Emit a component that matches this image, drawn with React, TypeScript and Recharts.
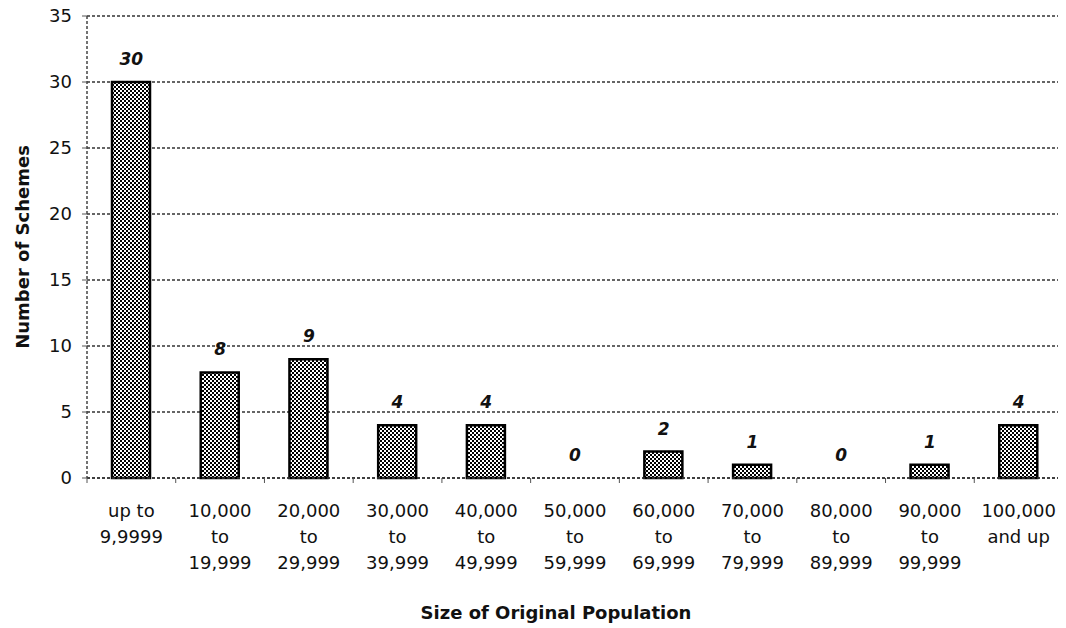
import React from "react";
import {
  ComposedChart,
  Bar,
  Line,
  XAxis,
  YAxis,
  CartesianGrid,
  LabelList,
  Label,
} from "recharts";

const categories = [
  "up to\n9,9999",
  "10,000\nto\n19,999",
  "20,000\nto\n29,999",
  "30,000\nto\n39,999",
  "40,000\nto\n49,999",
  "50,000\nto\n59,999",
  "60,000\nto\n69,999",
  "70,000\nto\n79,999",
  "80,000\nto\n89,999",
  "90,000\nto\n99,999",
  "100,000\nand up",
];
const counts = [30, 8, 9, 4, 4, 0, 2, 1, 0, 1, 4];
const yTicks = [0, 5, 10, 15, 20, 25, 30, 35];
const xTitle = "Size of Original Population";
const yTitle = "Number of Schemes";

const data = categories.map((c, i) => ({ category: c, count: counts[i] }));

const FONT = "'DejaVu Sans', Verdana, sans-serif";

const CategoryTick = (props: any) => {
  const { x, y, payload, width, visibleTicksCount, index } = props;
  const lines = String(payload.value).split("\n");
  const n = visibleTicksCount || categories.length;
  const half = width && n ? width / n / 2 : 0;
  return (
    <g>
      {half > 0 && (
        <line x1={x - half} x2={x - half} y1={y} y2={y + 5} stroke="#555" />
      )}
      {half > 0 && index === n - 1 && (
        <line x1={x + half} x2={x + half} y1={y} y2={y + 5} stroke="#555" />
      )}
      <text
        x={x}
        y={y}
        textAnchor="middle"
        fontFamily={FONT}
        fontSize={18}
        fill="#111"
      >
        {lines.map((ln: string, i: number) => (
          <tspan key={i} x={x} dy={i === 0 ? 39 : 26}>
            {ln}
          </tspan>
        ))}
      </text>
    </g>
  );
};

export default function App() {
  const dash = "3 2";
  return (
    <div
      style={{
        fontFamily: FONT,
        background: "#fff",
        position: "relative",
        top: -8,
        width: 1058,
        height: 620,
      }}
    >
      <ComposedChart
        width={1058}
        height={628}
        data={data}
        style={{ overflow: "visible" }}
        margin={{ top: 16, right: 3, left: 0, bottom: 0 }}
      >
        <defs>
          <pattern
            id="checker"
            width="4"
            height="4"
            patternUnits="userSpaceOnUse"
          >
            <rect width="4" height="4" fill="#ffffff" />
            <rect x="0" y="0" width="2" height="2" fill="#000000" />
            <rect x="2" y="2" width="2" height="2" fill="#000000" />
          </pattern>
        </defs>
        <CartesianGrid
          vertical={false}
          stroke="#333"
          strokeWidth={1.5}
          strokeDasharray={dash}
        />
        <XAxis
          dataKey="category"
          type="category"
          height={150}
          tickLine={false}
          tickSize={0}
          tickMargin={0}
          axisLine={{ stroke: "#333", strokeWidth: 1.5, strokeDasharray: dash }}
          tick={<CategoryTick />}
          interval={0}
        >
          <Label
            content={(p: any) => {
              const vb = p.viewBox || {};
              return (
                <text
                  x={vb.x + vb.width / 2 - 19}
                  y={vb.y + 134}
                  textAnchor="middle"
                  dominantBaseline="central"
                  fontFamily={FONT}
                  fontWeight="bold"
                  fontSize={18}
                  fill="#111"
                >
                  {xTitle}
                </text>
              );
            }}
          />
        </XAxis>
        <YAxis
          width={79}
          domain={[0, 35]}
          ticks={yTicks}
          interval={0}
          tickSize={5}
          tickMargin={10}
          tickLine={{ stroke: "#555" }}
          axisLine={{ stroke: "#444", strokeWidth: 1.5, strokeDasharray: dash }}
          tick={{ fontFamily: FONT, fontSize: 18, fill: "#111" }}
        >
          <Label
            content={(p: any) => {
              const vb = p.viewBox || {};
              const cy = vb.y + vb.height / 2;
              return (
                <text
                  x={14}
                  y={cy}
                  transform={`rotate(-90, 14, ${cy})`}
                  textAnchor="middle"
                  dominantBaseline="central"
                  fontFamily={FONT}
                  fontWeight="bold"
                  fontSize={18}
                  fill="#111"
                >
                  {yTitle}
                </text>
              );
            }}
          />
        </YAxis>
        <YAxis
          yAxisId="right"
          orientation="right"
          width={0}
          domain={[0, 35]}
          tick={false}
          tickLine={false}
          axisLine={{ stroke: "#333", strokeWidth: 2, strokeDasharray: dash }}
        />
        <Bar
          dataKey="count"
          fill="url(#checker)"
          stroke="#000"
          strokeWidth={2.5}
          barSize={38}
          isAnimationActive={false}
        />
        <Line
          dataKey="count"
          stroke="none"
          dot={false}
          activeDot={false}
          legendType="none"
          isAnimationActive={false}
        >
          <LabelList
            dataKey="count"
            position="top"
            offset={17}
            style={{
              fontFamily: FONT,
              fontSize: 17,
              fontWeight: "bold",
              fontStyle: "italic",
              fill: "#111",
            }}
          />
        </Line>
      </ComposedChart>
    </div>
  );
}
